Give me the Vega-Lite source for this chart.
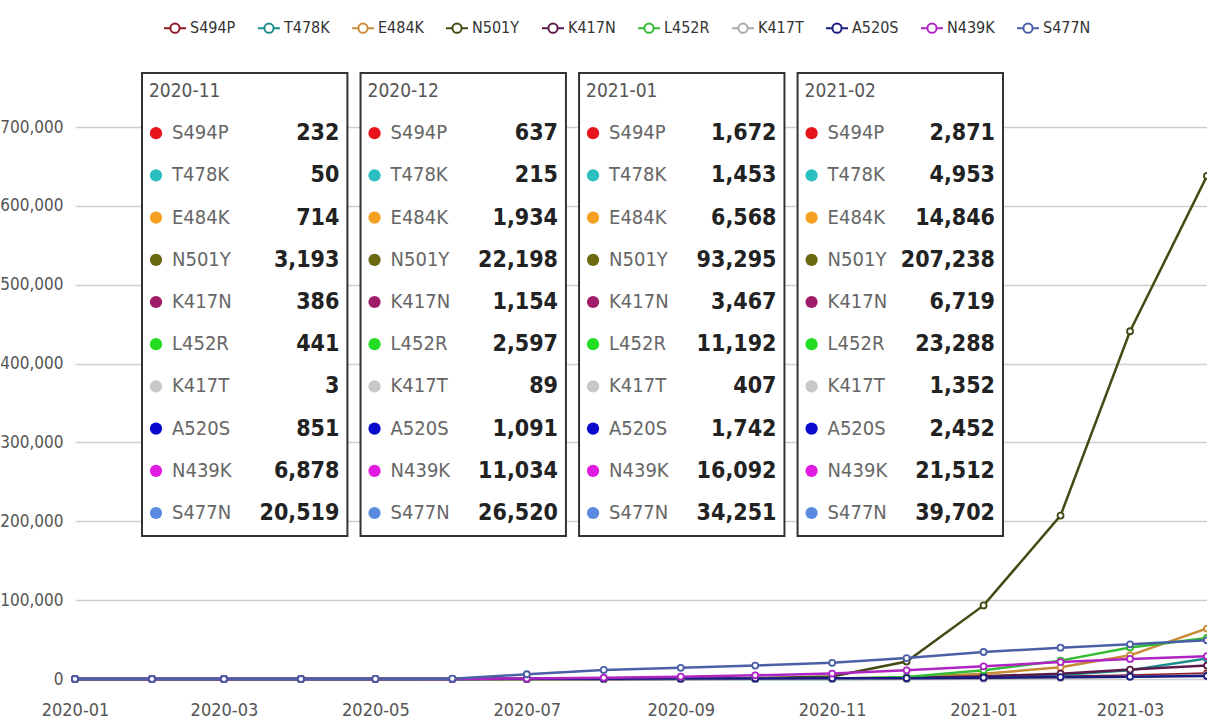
{
  "$schema": "https://vega.github.io/schema/vega-lite/v6.json",
  "width": 1132,
  "height": 619,
  "autosize": {"type": "none"},
  "padding": {"left": 75, "top": 60, "right": 0, "bottom": 43},
  "background": "white",
  "config": {
    "view": {"stroke": null},
    "font": "Liberation Sans Narrow, DejaVu Sans Condensed, sans-serif"
  },
  "datasets": {
    "series": [
      {"month":"2020-01-01","mutation":"S494P","count":0},{"month":"2020-02-01","mutation":"S494P","count":0},{"month":"2020-03-01","mutation":"S494P","count":0},{"month":"2020-04-01","mutation":"S494P","count":0},{"month":"2020-05-01","mutation":"S494P","count":0},{"month":"2020-06-01","mutation":"S494P","count":10},{"month":"2020-07-01","mutation":"S494P","count":40},{"month":"2020-08-01","mutation":"S494P","count":80},{"month":"2020-09-01","mutation":"S494P","count":120},{"month":"2020-10-01","mutation":"S494P","count":180},{"month":"2020-11-01","mutation":"S494P","count":232},{"month":"2020-12-01","mutation":"S494P","count":637},{"month":"2021-01-01","mutation":"S494P","count":1672},{"month":"2021-02-01","mutation":"S494P","count":2871},{"month":"2021-03-01","mutation":"S494P","count":4500},{"month":"2021-04-01","mutation":"S494P","count":7000},
      {"month":"2020-01-01","mutation":"T478K","count":0},{"month":"2020-02-01","mutation":"T478K","count":0},{"month":"2020-03-01","mutation":"T478K","count":0},{"month":"2020-04-01","mutation":"T478K","count":0},{"month":"2020-05-01","mutation":"T478K","count":0},{"month":"2020-06-01","mutation":"T478K","count":0},{"month":"2020-07-01","mutation":"T478K","count":2},{"month":"2020-08-01","mutation":"T478K","count":5},{"month":"2020-09-01","mutation":"T478K","count":15},{"month":"2020-10-01","mutation":"T478K","count":30},{"month":"2020-11-01","mutation":"T478K","count":50},{"month":"2020-12-01","mutation":"T478K","count":215},{"month":"2021-01-01","mutation":"T478K","count":1453},{"month":"2021-02-01","mutation":"T478K","count":4953},{"month":"2021-03-01","mutation":"T478K","count":11000},{"month":"2021-04-01","mutation":"T478K","count":26000},
      {"month":"2020-01-01","mutation":"E484K","count":0},{"month":"2020-02-01","mutation":"E484K","count":0},{"month":"2020-03-01","mutation":"E484K","count":5},{"month":"2020-04-01","mutation":"E484K","count":10},{"month":"2020-05-01","mutation":"E484K","count":20},{"month":"2020-06-01","mutation":"E484K","count":40},{"month":"2020-07-01","mutation":"E484K","count":80},{"month":"2020-08-01","mutation":"E484K","count":150},{"month":"2020-09-01","mutation":"E484K","count":300},{"month":"2020-10-01","mutation":"E484K","count":500},{"month":"2020-11-01","mutation":"E484K","count":714},{"month":"2020-12-01","mutation":"E484K","count":1934},{"month":"2021-01-01","mutation":"E484K","count":6568},{"month":"2021-02-01","mutation":"E484K","count":14846},{"month":"2021-03-01","mutation":"E484K","count":30000},{"month":"2021-04-01","mutation":"E484K","count":64000},
      {"month":"2020-01-01","mutation":"N501Y","count":0},{"month":"2020-02-01","mutation":"N501Y","count":0},{"month":"2020-03-01","mutation":"N501Y","count":0},{"month":"2020-04-01","mutation":"N501Y","count":2},{"month":"2020-05-01","mutation":"N501Y","count":5},{"month":"2020-06-01","mutation":"N501Y","count":10},{"month":"2020-07-01","mutation":"N501Y","count":30},{"month":"2020-08-01","mutation":"N501Y","count":80},{"month":"2020-09-01","mutation":"N501Y","count":300},{"month":"2020-10-01","mutation":"N501Y","count":1200},{"month":"2020-11-01","mutation":"N501Y","count":3193},{"month":"2020-12-01","mutation":"N501Y","count":22198},{"month":"2021-01-01","mutation":"N501Y","count":93295},{"month":"2021-02-01","mutation":"N501Y","count":207238},{"month":"2021-03-01","mutation":"N501Y","count":441000},{"month":"2021-04-01","mutation":"N501Y","count":638000},
      {"month":"2020-01-01","mutation":"K417N","count":0},{"month":"2020-02-01","mutation":"K417N","count":0},{"month":"2020-03-01","mutation":"K417N","count":0},{"month":"2020-04-01","mutation":"K417N","count":5},{"month":"2020-05-01","mutation":"K417N","count":10},{"month":"2020-06-01","mutation":"K417N","count":30},{"month":"2020-07-01","mutation":"K417N","count":60},{"month":"2020-08-01","mutation":"K417N","count":120},{"month":"2020-09-01","mutation":"K417N","count":200},{"month":"2020-10-01","mutation":"K417N","count":300},{"month":"2020-11-01","mutation":"K417N","count":386},{"month":"2020-12-01","mutation":"K417N","count":1154},{"month":"2021-01-01","mutation":"K417N","count":3467},{"month":"2021-02-01","mutation":"K417N","count":6719},{"month":"2021-03-01","mutation":"K417N","count":12000},{"month":"2021-04-01","mutation":"K417N","count":17000},
      {"month":"2020-01-01","mutation":"L452R","count":0},{"month":"2020-02-01","mutation":"L452R","count":0},{"month":"2020-03-01","mutation":"L452R","count":5},{"month":"2020-04-01","mutation":"L452R","count":10},{"month":"2020-05-01","mutation":"L452R","count":30},{"month":"2020-06-01","mutation":"L452R","count":60},{"month":"2020-07-01","mutation":"L452R","count":120},{"month":"2020-08-01","mutation":"L452R","count":200},{"month":"2020-09-01","mutation":"L452R","count":300},{"month":"2020-10-01","mutation":"L452R","count":380},{"month":"2020-11-01","mutation":"L452R","count":441},{"month":"2020-12-01","mutation":"L452R","count":2597},{"month":"2021-01-01","mutation":"L452R","count":11192},{"month":"2021-02-01","mutation":"L452R","count":23288},{"month":"2021-03-01","mutation":"L452R","count":40000},{"month":"2021-04-01","mutation":"L452R","count":52000},
      {"month":"2020-01-01","mutation":"K417T","count":0},{"month":"2020-02-01","mutation":"K417T","count":0},{"month":"2020-03-01","mutation":"K417T","count":0},{"month":"2020-04-01","mutation":"K417T","count":0},{"month":"2020-05-01","mutation":"K417T","count":0},{"month":"2020-06-01","mutation":"K417T","count":0},{"month":"2020-07-01","mutation":"K417T","count":0},{"month":"2020-08-01","mutation":"K417T","count":1},{"month":"2020-09-01","mutation":"K417T","count":1},{"month":"2020-10-01","mutation":"K417T","count":2},{"month":"2020-11-01","mutation":"K417T","count":3},{"month":"2020-12-01","mutation":"K417T","count":89},{"month":"2021-01-01","mutation":"K417T","count":407},{"month":"2021-02-01","mutation":"K417T","count":1352},{"month":"2021-03-01","mutation":"K417T","count":3000},{"month":"2021-04-01","mutation":"K417T","count":5000},
      {"month":"2020-01-01","mutation":"A520S","count":0},{"month":"2020-02-01","mutation":"A520S","count":0},{"month":"2020-03-01","mutation":"A520S","count":0},{"month":"2020-04-01","mutation":"A520S","count":5},{"month":"2020-05-01","mutation":"A520S","count":20},{"month":"2020-06-01","mutation":"A520S","count":100},{"month":"2020-07-01","mutation":"A520S","count":250},{"month":"2020-08-01","mutation":"A520S","count":450},{"month":"2020-09-01","mutation":"A520S","count":600},{"month":"2020-10-01","mutation":"A520S","count":750},{"month":"2020-11-01","mutation":"A520S","count":851},{"month":"2020-12-01","mutation":"A520S","count":1091},{"month":"2021-01-01","mutation":"A520S","count":1742},{"month":"2021-02-01","mutation":"A520S","count":2452},{"month":"2021-03-01","mutation":"A520S","count":3000},{"month":"2021-04-01","mutation":"A520S","count":3800},
      {"month":"2020-01-01","mutation":"N439K","count":0},{"month":"2020-02-01","mutation":"N439K","count":0},{"month":"2020-03-01","mutation":"N439K","count":10},{"month":"2020-04-01","mutation":"N439K","count":20},{"month":"2020-05-01","mutation":"N439K","count":40},{"month":"2020-06-01","mutation":"N439K","count":150},{"month":"2020-07-01","mutation":"N439K","count":600},{"month":"2020-08-01","mutation":"N439K","count":1600},{"month":"2020-09-01","mutation":"N439K","count":3000},{"month":"2020-10-01","mutation":"N439K","count":4700},{"month":"2020-11-01","mutation":"N439K","count":6878},{"month":"2020-12-01","mutation":"N439K","count":11034},{"month":"2021-01-01","mutation":"N439K","count":16092},{"month":"2021-02-01","mutation":"N439K","count":21512},{"month":"2021-03-01","mutation":"N439K","count":25500},{"month":"2021-04-01","mutation":"N439K","count":29000},
      {"month":"2020-01-01","mutation":"S477N","count":0},{"month":"2020-02-01","mutation":"S477N","count":0},{"month":"2020-03-01","mutation":"S477N","count":5},{"month":"2020-04-01","mutation":"S477N","count":20},{"month":"2020-05-01","mutation":"S477N","count":60},{"month":"2020-06-01","mutation":"S477N","count":400},{"month":"2020-07-01","mutation":"S477N","count":6000},{"month":"2020-08-01","mutation":"S477N","count":11500},{"month":"2020-09-01","mutation":"S477N","count":14200},{"month":"2020-10-01","mutation":"S477N","count":17000},{"month":"2020-11-01","mutation":"S477N","count":20519},{"month":"2020-12-01","mutation":"S477N","count":26520},{"month":"2021-01-01","mutation":"S477N","count":34251},{"month":"2021-02-01","mutation":"S477N","count":39702},{"month":"2021-03-01","mutation":"S477N","count":44000},{"month":"2021-04-01","mutation":"S477N","count":49000}
    ],
    "tips": [
      {"tip":"2020-11","mutation":"S494P","value":232},{"tip":"2020-11","mutation":"T478K","value":50},{"tip":"2020-11","mutation":"E484K","value":714},{"tip":"2020-11","mutation":"N501Y","value":3193},{"tip":"2020-11","mutation":"K417N","value":386},{"tip":"2020-11","mutation":"L452R","value":441},{"tip":"2020-11","mutation":"K417T","value":3},{"tip":"2020-11","mutation":"A520S","value":851},{"tip":"2020-11","mutation":"N439K","value":6878},{"tip":"2020-11","mutation":"S477N","value":20519},
      {"tip":"2020-12","mutation":"S494P","value":637},{"tip":"2020-12","mutation":"T478K","value":215},{"tip":"2020-12","mutation":"E484K","value":1934},{"tip":"2020-12","mutation":"N501Y","value":22198},{"tip":"2020-12","mutation":"K417N","value":1154},{"tip":"2020-12","mutation":"L452R","value":2597},{"tip":"2020-12","mutation":"K417T","value":89},{"tip":"2020-12","mutation":"A520S","value":1091},{"tip":"2020-12","mutation":"N439K","value":11034},{"tip":"2020-12","mutation":"S477N","value":26520},
      {"tip":"2021-01","mutation":"S494P","value":1672},{"tip":"2021-01","mutation":"T478K","value":1453},{"tip":"2021-01","mutation":"E484K","value":6568},{"tip":"2021-01","mutation":"N501Y","value":93295},{"tip":"2021-01","mutation":"K417N","value":3467},{"tip":"2021-01","mutation":"L452R","value":11192},{"tip":"2021-01","mutation":"K417T","value":407},{"tip":"2021-01","mutation":"A520S","value":1742},{"tip":"2021-01","mutation":"N439K","value":16092},{"tip":"2021-01","mutation":"S477N","value":34251},
      {"tip":"2021-02","mutation":"S494P","value":2871},{"tip":"2021-02","mutation":"T478K","value":4953},{"tip":"2021-02","mutation":"E484K","value":14846},{"tip":"2021-02","mutation":"N501Y","value":207238},{"tip":"2021-02","mutation":"K417N","value":6719},{"tip":"2021-02","mutation":"L452R","value":23288},{"tip":"2021-02","mutation":"K417T","value":1352},{"tip":"2021-02","mutation":"A520S","value":2452},{"tip":"2021-02","mutation":"N439K","value":21512},{"tip":"2021-02","mutation":"S477N","value":39702}
    ]
  },
  "layer": [
    {
      "data": {"name": "series"},
      "mark": {"type": "line", "strokeWidth": 2.5, "point": {"filled": false, "fill": "white", "size": 36, "strokeWidth": 1.8}},
      "encoding": {
        "x": {
          "field": "month", "timeUnit": "utcyearmonth", "type": "temporal",
          "scale": {"domain": [{"year": 2020, "month": 1, "date": 1, "utc": true}, {"year": 2021, "month": 4, "date": 1, "utc": true}], "nice": false},
          "axis": {"title": null, "format": "%Y-%m", "tickCount": {"interval": "month", "step": 2}, "grid": false, "domain": false, "ticks": false, "labelPadding": 22, "labelFontSize": 18, "labelColor": "#555", "labelOverlap": false, "labelFlush": false, "labelBound": false}
        },
        "y": {
          "field": "count", "type": "quantitative",
          "scale": {"domain": [0, 785000], "nice": false},
          "axis": {"title": null, "tickCount": 8, "format": ",.0f", "grid": true, "gridColor": "#cfcfcf", "gridWidth": 1.5, "domain": false, "ticks": false, "labelPadding": 12, "labelFontSize": 17, "labelColor": "#555"}
        },
        "color": {
          "field": "mutation", "type": "nominal",
          "scale": {
            "domain": ["S494P","T478K","E484K","N501Y","K417N","L452R","K417T","A520S","N439K","S477N"],
            "range": ["#8E1B2A","#1B8C8C","#C98A35","#434A14","#5C1A4C","#33BB33","#AAAAAA","#1A1A80","#B024C4","#4C5FA6"]
          },
          "legend": {
            "title": null, "orient": "none", "legendX": 88, "legendY": -44, "direction": "horizontal",
            "symbolType": "M-1,0L-0.42,0M0.42,0L1,0M-0.42,0A0.42,0.42,0,1,1,0.42,0A0.42,0.42,0,1,1,-0.42,0",
            "symbolSize": 484, "symbolStrokeWidth": 2, "symbolFillColor": "white",
            "labelFontSize": 16, "labelColor": "#333", "labelOffset": 3, "columnPadding": 18
          }
        }
      }
    },
    {
      "data": {"name": "tips"},
      "encoding": {
        "x": {"field": "tip", "type": "ordinal", "scale": {"type": "band", "domain": ["2020-11","2020-12","2021-01","2021-02"], "range": [67, 928], "paddingInner": 0.06, "paddingOuter": 0}, "axis": null}
      },
      "layer": [
        {
          "transform": [{"aggregate": [{"op": "count", "as": "n"}], "groupby": ["tip"]}],
          "mark": {"type": "rect", "fill": "white", "stroke": "#333", "strokeWidth": 2, "yOffset": -18, "y2Offset": 23},
          "encoding": {
            "y": {"datum": "title", "type": "ordinal", "scale": {"type": "point", "domain": ["title","S494P","T478K","E484K","N501Y","K417N","L452R","K417T","A520S","N439K","S477N"], "range": [31, 453], "padding": 0}, "axis": null},
            "y2": {"datum": "S477N"}
          }
        },
        {
          "transform": [{"aggregate": [{"op": "count", "as": "n"}], "groupby": ["tip"]}],
          "mark": {"type": "text", "align": "left", "baseline": "middle", "dx": 7, "fontSize": 19, "fill": "#555"},
          "encoding": {
            "x": {"field": "tip", "type": "ordinal", "bandPosition": 0},
            "y": {"datum": "title", "type": "ordinal"},
            "text": {"field": "tip"}
          }
        },
        {
          "mark": {"type": "circle", "size": 150, "opacity": 1, "xOffset": 14},
          "encoding": {
            "x": {"field": "tip", "type": "ordinal", "bandPosition": 0},
            "y": {"field": "mutation", "type": "ordinal"},
            "color": {
              "field": "mutation", "type": "nominal",
              "scale": {
                "domain": ["S494P","T478K","E484K","N501Y","K417N","L452R","K417T","A520S","N439K","S477N"],
                "range": ["#E8141C","#2BBFC0","#F5A020","#6B6A12","#A01C6A","#22DD22","#C8C8C8","#0A0ACC","#E01CE0","#5A8AE0"]
              },
              "legend": null
            }
          }
        },
        {
          "mark": {"type": "text", "align": "left", "baseline": "middle", "dx": 30, "fontSize": 20, "fill": "#666"},
          "encoding": {
            "x": {"field": "tip", "type": "ordinal", "bandPosition": 0},
            "y": {"field": "mutation", "type": "ordinal"},
            "text": {"field": "mutation"}
          }
        },
        {
          "mark": {"type": "text", "align": "right", "baseline": "middle", "dx": -8, "fontSize": 23, "fontWeight": "bold", "fill": "#222"},
          "encoding": {
            "x": {"field": "tip", "type": "ordinal", "bandPosition": 1},
            "y": {"field": "mutation", "type": "ordinal"},
            "text": {"field": "value", "type": "quantitative", "format": ","}
          }
        }
      ]
    }
  ],
  "resolve": {"scale": {"x": "independent", "y": "independent", "color": "independent"}}
}
